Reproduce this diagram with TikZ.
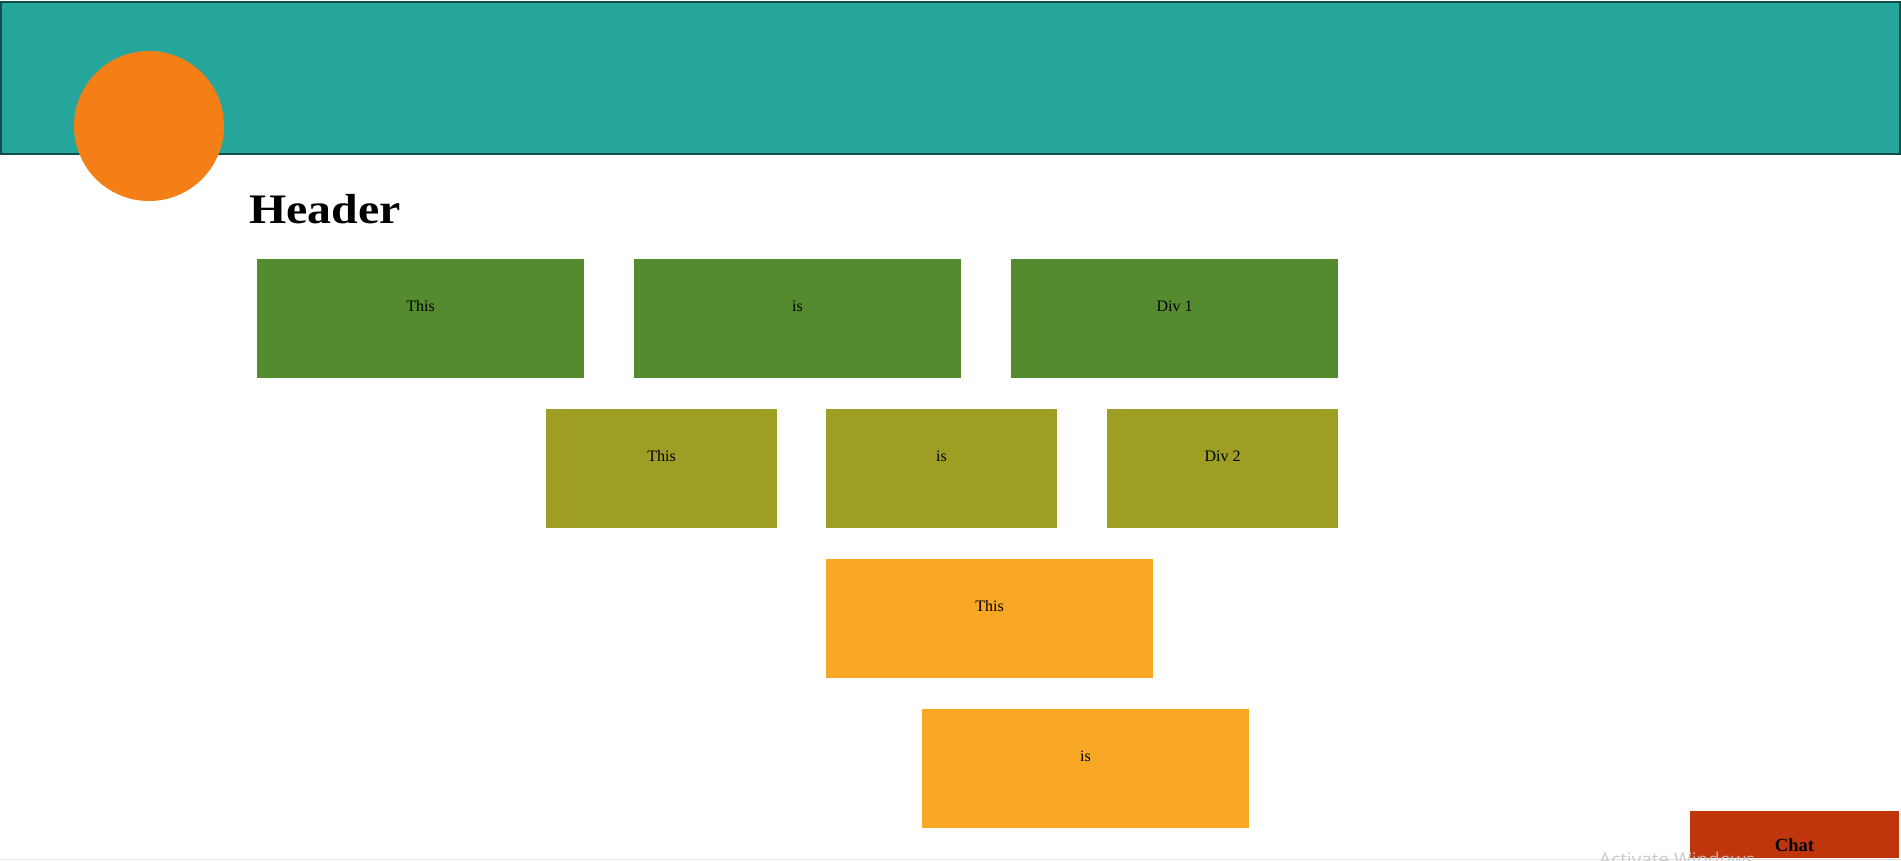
\documentclass[tikz,border=0pt]{standalone}
\usepackage{fontspec}
\setmainfont{Liberation Serif}
\newfontfamily\wmfont{Open Sans}
\definecolor{teal400}{HTML}{26A69A}
\definecolor{tealborder}{HTML}{0E4F49}
\definecolor{orangecirc}{HTML}{F57F17}
\definecolor{greenbox}{HTML}{558B2F}
\definecolor{olivebox}{HTML}{9E9D24}
\definecolor{yellowbox}{HTML}{F9A825}
\definecolor{chatred}{HTML}{BF360C}
\definecolor{wmgray}{HTML}{C4C4C4}
\definecolor{bottomgray}{HTML}{E2E2E2}
\tikzset{
  box/.style={rectangle, inner sep=0pt, outer sep=0pt, anchor=north west, draw=none},
  widebox/.style={box, minimum width=327pt, minimum height=119pt},
  narrowbox/.style={box, minimum width=231pt, minimum height=119pt},
  lbl/.style={inner sep=0pt, anchor=base, text=black, font=\fontsize{16}{19}\selectfont},
}
\begin{document}
\begin{tikzpicture}[x=1pt,y=-1pt]
\useasboundingbox (0,0) rectangle (1901,860);
\fill[white] (0,0) rectangle (1901,860);
% header bar
\node[box, fill=teal400, draw=tealborder, line width=2pt, minimum width=1899pt, minimum height=152.5pt] (bar) at (1,1.5) {};
% logo circle
\node[circle, fill=orangecirc, minimum size=150pt, inner sep=0pt] (logo) at (149,126) {};
% title
\node[anchor=base west, inner sep=0pt, font=\bfseries\fontsize{42}{50}\selectfont] (title) at (249.2,223.3) {\scalebox{1.14}[1]{Header}};
% row 1
\node[widebox, fill=greenbox] (r1a) at (257,259) {};
\node[widebox, fill=greenbox] (r1b) at (634,259) {};
\node[widebox, fill=greenbox] (r1c) at (1011,259) {};
\node[lbl] (t1a) at ([yshift=-52pt]r1a.north) {This};
\node[lbl] (t1b) at ([yshift=-52pt]r1b.north) {is};
\node[lbl] (t1c) at ([yshift=-52pt]r1c.north) {Div 1};
% row 2
\node[narrowbox, fill=olivebox] (r2a) at (546,409) {};
\node[narrowbox, fill=olivebox] (r2b) at (826,409) {};
\node[narrowbox, fill=olivebox] (r2c) at (1107,409) {};
\node[lbl] (t2a) at ([yshift=-52pt]r2a.north) {This};
\node[lbl] (t2b) at ([yshift=-52pt]r2b.north) {is};
\node[lbl] (t2c) at ([yshift=-52pt]r2c.north) {Div 2};
% rows 3 and 4
\node[widebox, fill=yellowbox] (r3) at (826,559) {};
\node[widebox, fill=yellowbox] (r4) at (922,709) {};
\node[lbl] (t3) at ([yshift=-52pt]r3.north) {This};
\node[lbl] (t4) at ([yshift=-52pt]r4.north) {is};
% chat button
\node[box, fill=chatred, minimum width=209pt, minimum height=47pt] (chat) at (1690,811) {};
\node[lbl, font=\bfseries\fontsize{18.5}{22}\selectfont] (chatt) at ([yshift=-40pt]chat.north) {Chat};
% bottom line
\draw[line width=1.5pt, draw=bottomgray] (0,859.25) -- (1901,859.25);
% watermark
\begin{scope}
\clip (0,0) rectangle (1901,860);
\node[anchor=base west, inner sep=0pt, text=wmgray, text opacity=0.85, font=\wmfont\fontsize{19}{23}\selectfont] (wm) at (1599,866) {Activate Windows};
\end{scope}
\end{tikzpicture}
\end{document}
